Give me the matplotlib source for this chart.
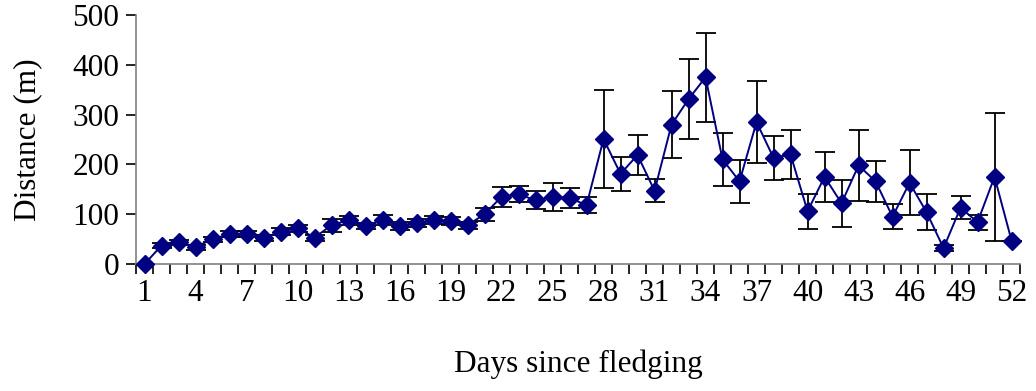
import numpy as np
import matplotlib
matplotlib.use('Agg')
import matplotlib.pyplot as plt

# Mean distance from the nest per day since fledging, with error bars
days = list(range(1, 53))
distance = [0, 37, 44, 34, 50, 60, 60, 52, 65, 72, 53, 78, 88, 77, 88, 77, 82, 88, 86, 78,
            100, 135, 140, 128, 135, 133, 118, 251, 181, 219, 147, 280, 331, 375, 210, 166,
            285, 213, 220, 106, 175, 122, 198, 166, 95, 163, 104, 32, 113, 84, 175, 47]
error = [0, 5, 5, 5, 5, 6, 6, 6, 7, 7, 6, 13, 9, 6, 10, 8, 8, 8, 8, 7,
         13, 20, 16, 18, 28, 20, 16, 98, 34, 40, 23, 67, 80, 89, 54, 43,
         83, 44, 50, 35, 50, 47, 72, 41, 25, 65, 36, 6, 23, 15, 128, 0]
tick_days = list(range(1, 53, 3))

plt.rcParams['font.family'] = ['Liberation Serif', 'DejaVu Serif']

fig = plt.figure(figsize=(10.36, 3.91), dpi=100)
ax = fig.add_axes([0.1313, 0.3248, 0.8533, 0.6368])

ax.errorbar(days, distance, yerr=error, fmt='none', ecolor='black',
            elinewidth=1.3, capsize=7.5, capthick=1.3, zorder=2, clip_on=False)
ax.plot(days, distance, color='#000080', linewidth=1.4, marker='D',
        markersize=9, markerfacecolor='#000080', markeredgecolor='#000080',
        zorder=3, clip_on=False)

ax.set_xlim(0.5, 52.5)
ax.set_ylim(0, 500)
ax.set_yticks([0, 100, 200, 300, 400, 500])
ax.set_xticks(tick_days)
ax.set_xticks(np.arange(0.5, 53, 1), minor=True)

for side in ['top', 'right']:
    ax.spines[side].set_visible(False)
for side in ['left', 'bottom']:
    ax.spines[side].set_color('#808080')
    ax.spines[side].set_linewidth(1.2)

ax.tick_params(axis='y', direction='out', length=7, width=1.2, color='black',
               labelsize=22.5, pad=5)
ax.tick_params(axis='x', which='major', length=0, labelsize=22.5, pad=11)
ax.tick_params(axis='x', which='minor', direction='out', length=7, width=1.2,
               color='black')

ax.set_xlabel('Days since fledging', fontsize=22.5, labelpad=30)
ax.set_ylabel('Distance (m)', fontsize=22.5, labelpad=22)

fig.savefig('out.png', dpi=100)
